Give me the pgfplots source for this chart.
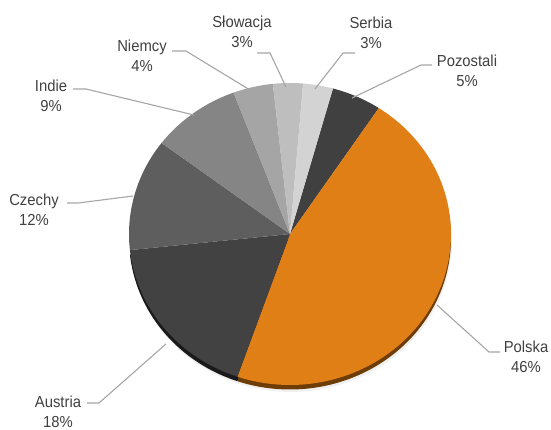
\documentclass[border=0pt]{standalone}
\usepackage{pgfplots}
\pgfplotsset{compat=1.18}
\usepackage{fontspec}
\setmainfont{Liberation Sans}[FakeStretch=0.93]
\definecolor{cPoz}{HTML}{404040}
\definecolor{cPol}{HTML}{E17F17}
\definecolor{cPolD}{HTML}{6E3C05}
\definecolor{cAus}{HTML}{424242}
\definecolor{cAusD}{HTML}{1A1A1A}
\definecolor{cCze}{HTML}{5E5E5E}
\definecolor{cInd}{HTML}{858585}
\definecolor{cNie}{HTML}{A5A5A5}
\definecolor{cSlo}{HTML}{BEBEBE}
\definecolor{cSer}{HTML}{D3D3D3}
\definecolor{txt}{HTML}{404040}
\definecolor{lead}{HTML}{A6A6A6}
% shares (%): Pozostali 5, Polska 46, Austria 18, Czechy 12, Indie 9, Niemcy 4, Slowacja 3, Serbia 3
% cumulative bounds in %, starting at 4.3
\begin{document}
\begin{tikzpicture}
\begin{axis}[name=ax, width=551bp, height=430bp, scale only axis,
  xmin=0, xmax=551, ymin=0, ymax=430, y dir=reverse, hide axis, clip=false]
% soft shadow under the pie
\addplot[draw=none, fill=black, opacity=0.06, domain=0:100, samples=100, variable=\t] ({291+161*sin(3.6*\t)}, {241-151*cos(3.6*\t)}) -- cycle;
% rim (shadow) wedges
\addplot[draw=none, fill=cPolD, domain=9.3:55.3, samples=80, variable=\t] ({290+161*sin(3.6*\t)}, {238.5-151*cos(3.6*\t)}) -- (axis cs:290,238.5) -- cycle;
\addplot[draw=none, fill=cAusD, domain=55.3:73.3, samples=40, variable=\t] ({290+161*sin(3.6*\t)}, {238.5-151*cos(3.6*\t)}) -- (axis cs:290,238.5) -- cycle;
% top faces
\addplot[draw=none, fill=cPoz, domain=4.3:9.3, samples=20, variable=\t] ({290+161*sin(3.6*\t)}, {234-151*cos(3.6*\t)}) -- (axis cs:290,234) -- cycle;
\addplot[draw=none, fill=cPol, domain=9.3:55.3, samples=80, variable=\t] ({290+161*sin(3.6*\t)}, {234-151*cos(3.6*\t)}) -- (axis cs:290,234) -- cycle;
\addplot[draw=none, fill=cAus, domain=55.3:73.3, samples=40, variable=\t] ({290+161*sin(3.6*\t)}, {234-151*cos(3.6*\t)}) -- (axis cs:290,234) -- cycle;
\addplot[draw=none, fill=cCze, domain=73.3:85.3, samples=30, variable=\t] ({290+161*sin(3.6*\t)}, {234-151*cos(3.6*\t)}) -- (axis cs:290,234) -- cycle;
\addplot[draw=none, fill=cInd, domain=85.3:94.3, samples=25, variable=\t] ({290+161*sin(3.6*\t)}, {234-151*cos(3.6*\t)}) -- (axis cs:290,234) -- cycle;
\addplot[draw=none, fill=cNie, domain=94.3:98.3, samples=15, variable=\t] ({290+161*sin(3.6*\t)}, {234-151*cos(3.6*\t)}) -- (axis cs:290,234) -- cycle;
\addplot[draw=none, fill=cSlo, domain=98.3:101.3, samples=12, variable=\t] ({290+161*sin(3.6*\t)}, {234-151*cos(3.6*\t)}) -- (axis cs:290,234) -- cycle;
\addplot[draw=none, fill=cSer, domain=101.3:104.3, samples=12, variable=\t] ({290+161*sin(3.6*\t)}, {234-151*cos(3.6*\t)}) -- (axis cs:290,234) -- cycle;
% leader lines
\addplot[lead, line width=1.1bp, mark=none] coordinates {(257,53) (270,53) (286,87)};
\addplot[lead, line width=1.1bp, mark=none] coordinates {(355,53) (343,53) (315,89)};
\addplot[lead, line width=1.1bp, mark=none] coordinates {(432,65) (421,65) (352,98)};
\addplot[lead, line width=1.1bp, mark=none] coordinates {(172,51) (186,51) (250,90)};
\addplot[lead, line width=1.1bp, mark=none] coordinates {(73,89) (86,89) (194,115)};
\addplot[lead, line width=1.1bp, mark=none] coordinates {(67,203) (78,203) (133,196)};
\addplot[lead, line width=1.1bp, mark=none] coordinates {(87,403) (99,403) (166,344)};
\addplot[lead, line width=1.1bp, mark=none] coordinates {(500,352) (489,352) (437,305)};
% labels
\begin{scope}[every node/.style={text=txt, align=center, inner sep=0pt, font=\fontsize{16}{20}\selectfont}]
\node at (axis cs:242,32) {Słowacja\\3\%};
\node at (axis cs:371,33) {Serbia\\3\%};
\node at (axis cs:467,71) {Pozostali\\5\%};
\node at (axis cs:142,56) {Niemcy\\4\%};
\node at (axis cs:51,96) {Indie\\9\%};
\node at (axis cs:34,210) {Czechy\\12\%};
\node at (axis cs:58,412) {Austria\\18\%};
\node at (axis cs:526,357) {Polska\\46\%};
\end{scope}
\end{axis}
\pgfresetboundingbox
\path (ax.south west) rectangle (ax.north east);
\end{tikzpicture}
\end{document}
